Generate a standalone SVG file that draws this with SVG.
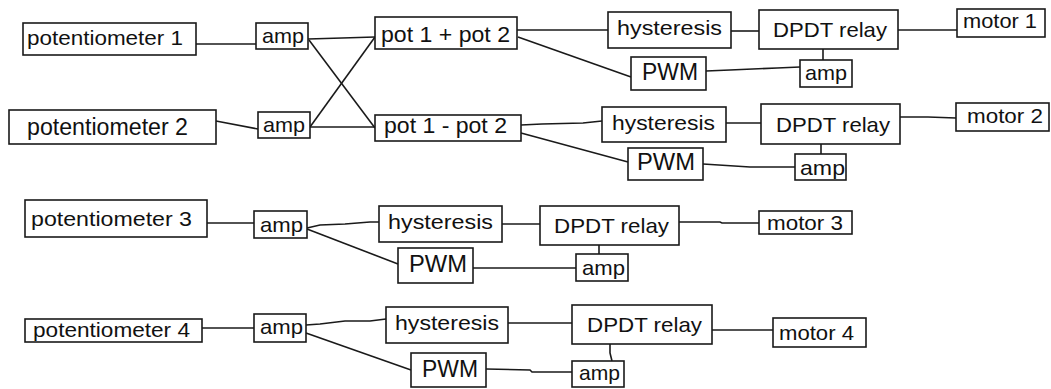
<svg xmlns="http://www.w3.org/2000/svg" width="1051" height="389" viewBox="0 0 1051 389">
<style>
rect{fill:#fff;stroke:#1a1a1a;stroke-width:1.6}
text{font-family:"Liberation Sans",Arial,sans-serif;font-size:21px;fill:#111}
#connectors path{fill:none;stroke:#1a1a1a;stroke-width:1.6}
</style>
<rect x="0" y="0" width="1051" height="389" style="fill:#fff;stroke:none"/>
<g id="connectors">
<path d="M196,44 H256"/>
<path d="M216,121 L258,129"/>
<path d="M308,39 L342,38 L375,37"/>
<path d="M309,40 L375,128"/>
<path d="M310,127 L375,37"/>
<path d="M310,127 H375"/>
<path d="M517,30 H608"/>
<path d="M518,37 L631,77"/>
<path d="M521,125 L542,124 L583,123 L602,121"/>
<path d="M521,133 L628,162"/>
<path d="M731,31 H759"/>
<path d="M898,30 H957"/>
<path d="M823,49 V60"/>
<path d="M706,71 L730,70 L777,68 L800,67"/>
<path d="M726,123 H761"/>
<path d="M900,117 L928,117 L956,118"/>
<path d="M821,144 V154"/>
<path d="M703,164 L750,167 H795"/>
<path d="M207,223 H254"/>
<path d="M307,228 L320,225 L345,224 L370,222 H379"/>
<path d="M307,229 L398,264"/>
<path d="M502,224 H540"/>
<path d="M599,245 V254"/>
<path d="M473,268 H576"/>
<path d="M679,222 H720 L722,223 H759"/>
<path d="M202,328 H254"/>
<path d="M306,325 L320,324 L345,321 H370 L386,319"/>
<path d="M306,333 L411,370"/>
<path d="M508,323 H572"/>
<path d="M610,344 V353 L612,361"/>
<path d="M486,369 L530,370 L532,372 H572"/>
<path d="M712,330 H773"/>
</g>
<g id="pot1"><rect x="23" y="23" width="173" height="32"/><text x="27" y="45" textLength="156" lengthAdjust="spacingAndGlyphs">potentiometer 1</text></g>
<g id="amp1"><rect x="256" y="23" width="52" height="26"/><text x="262" y="43" textLength="42" lengthAdjust="spacingAndGlyphs">amp</text></g>
<g id="pot2"><rect x="9" y="110" width="207" height="34"/><text x="27" y="135" textLength="161" lengthAdjust="spacingAndGlyphs" style="font-size:23px">potentiometer 2</text></g>
<g id="amp2"><rect x="258" y="112" width="52" height="26"/><text x="263" y="132" textLength="42" lengthAdjust="spacingAndGlyphs">amp</text></g>
<g id="sum"><rect x="375" y="17" width="142" height="32"/><text x="381" y="42" textLength="129" lengthAdjust="spacingAndGlyphs" style="font-size:22px">pot 1 + pot 2</text></g>
<g id="diff"><rect x="375" y="115" width="146" height="26"/><text x="384" y="133" textLength="123" lengthAdjust="spacingAndGlyphs" style="font-size:22px">pot 1 - pot 2</text></g>
<g id="hyst1"><rect x="608" y="12" width="123" height="36"/><text x="617" y="35" textLength="105" lengthAdjust="spacingAndGlyphs">hysteresis</text></g>
<g id="pwm1"><rect x="631" y="57" width="75" height="33"/><text x="642" y="80" textLength="56" lengthAdjust="spacingAndGlyphs" style="font-size:23px">PWM</text></g>
<g id="hyst2"><rect x="602" y="107" width="124" height="35"/><text x="612" y="130" textLength="103" lengthAdjust="spacingAndGlyphs">hysteresis</text></g>
<g id="pwm2"><rect x="628" y="148" width="75" height="32"/><text x="637" y="170" textLength="58" lengthAdjust="spacingAndGlyphs" style="font-size:23px">PWM</text></g>
<g id="relay1"><rect x="759" y="10" width="139" height="39"/><text x="773" y="37" textLength="114" lengthAdjust="spacingAndGlyphs">DPDT relay</text></g>
<g id="motor1"><rect x="957" y="9" width="88" height="28"/><text x="963" y="28" textLength="74" lengthAdjust="spacingAndGlyphs">motor 1</text></g>
<g id="ampr1"><rect x="800" y="60" width="52" height="27"/><text x="805" y="80" textLength="42" lengthAdjust="spacingAndGlyphs">amp</text></g>
<g id="relay2"><rect x="761" y="104" width="139" height="40"/><text x="776" y="132" textLength="114" lengthAdjust="spacingAndGlyphs">DPDT relay</text></g>
<g id="motor2"><rect x="956" y="103" width="93" height="28"/><text x="967" y="123" textLength="76" lengthAdjust="spacingAndGlyphs">motor 2</text></g>
<g id="ampr2"><rect x="795" y="154" width="51" height="26"/><text x="800" y="175" textLength="45" lengthAdjust="spacingAndGlyphs">amp</text></g>
<g id="pot3"><rect x="25" y="200" width="182" height="37"/><text x="31" y="226" textLength="161" lengthAdjust="spacingAndGlyphs">potentiometer 3</text></g>
<g id="amp3"><rect x="254" y="211" width="53" height="27"/><text x="260" y="232" textLength="43" lengthAdjust="spacingAndGlyphs">amp</text></g>
<g id="hyst3"><rect x="379" y="206" width="123" height="36"/><text x="388" y="229" textLength="105" lengthAdjust="spacingAndGlyphs">hysteresis</text></g>
<g id="pwm3"><rect x="398" y="248" width="75" height="35"/><text x="409" y="272" textLength="58" lengthAdjust="spacingAndGlyphs" style="font-size:23px">PWM</text></g>
<g id="relay3"><rect x="540" y="206" width="139" height="39"/><text x="554" y="233" textLength="115" lengthAdjust="spacingAndGlyphs">DPDT relay</text></g>
<g id="ampr3"><rect x="576" y="254" width="52" height="27"/><text x="582" y="275" textLength="43" lengthAdjust="spacingAndGlyphs">amp</text></g>
<g id="motor3"><rect x="759" y="211" width="93" height="23"/><text x="767" y="230" textLength="76" lengthAdjust="spacingAndGlyphs">motor 3</text></g>
<g id="pot4"><rect x="25" y="319" width="177" height="23"/><text x="33" y="337" textLength="157" lengthAdjust="spacingAndGlyphs">potentiometer 4</text></g>
<g id="amp4"><rect x="254" y="314" width="52" height="28"/><text x="260" y="334" textLength="43" lengthAdjust="spacingAndGlyphs">amp</text></g>
<g id="hyst4"><rect x="386" y="307" width="122" height="36"/><text x="395" y="330" textLength="104" lengthAdjust="spacingAndGlyphs">hysteresis</text></g>
<g id="pwm4"><rect x="411" y="353" width="75" height="34"/><text x="422" y="377" textLength="56" lengthAdjust="spacingAndGlyphs" style="font-size:23px">PWM</text></g>
<g id="relay4"><rect x="572" y="305" width="140" height="39"/><text x="587" y="332" textLength="115" lengthAdjust="spacingAndGlyphs">DPDT relay</text></g>
<g id="ampr4"><rect x="572" y="361" width="52" height="26"/><text x="579" y="380" textLength="41" lengthAdjust="spacingAndGlyphs">amp</text></g>
<g id="motor4"><rect x="773" y="318" width="93" height="29"/><text x="779" y="340" textLength="75" lengthAdjust="spacingAndGlyphs">motor 4</text></g>
</svg>
